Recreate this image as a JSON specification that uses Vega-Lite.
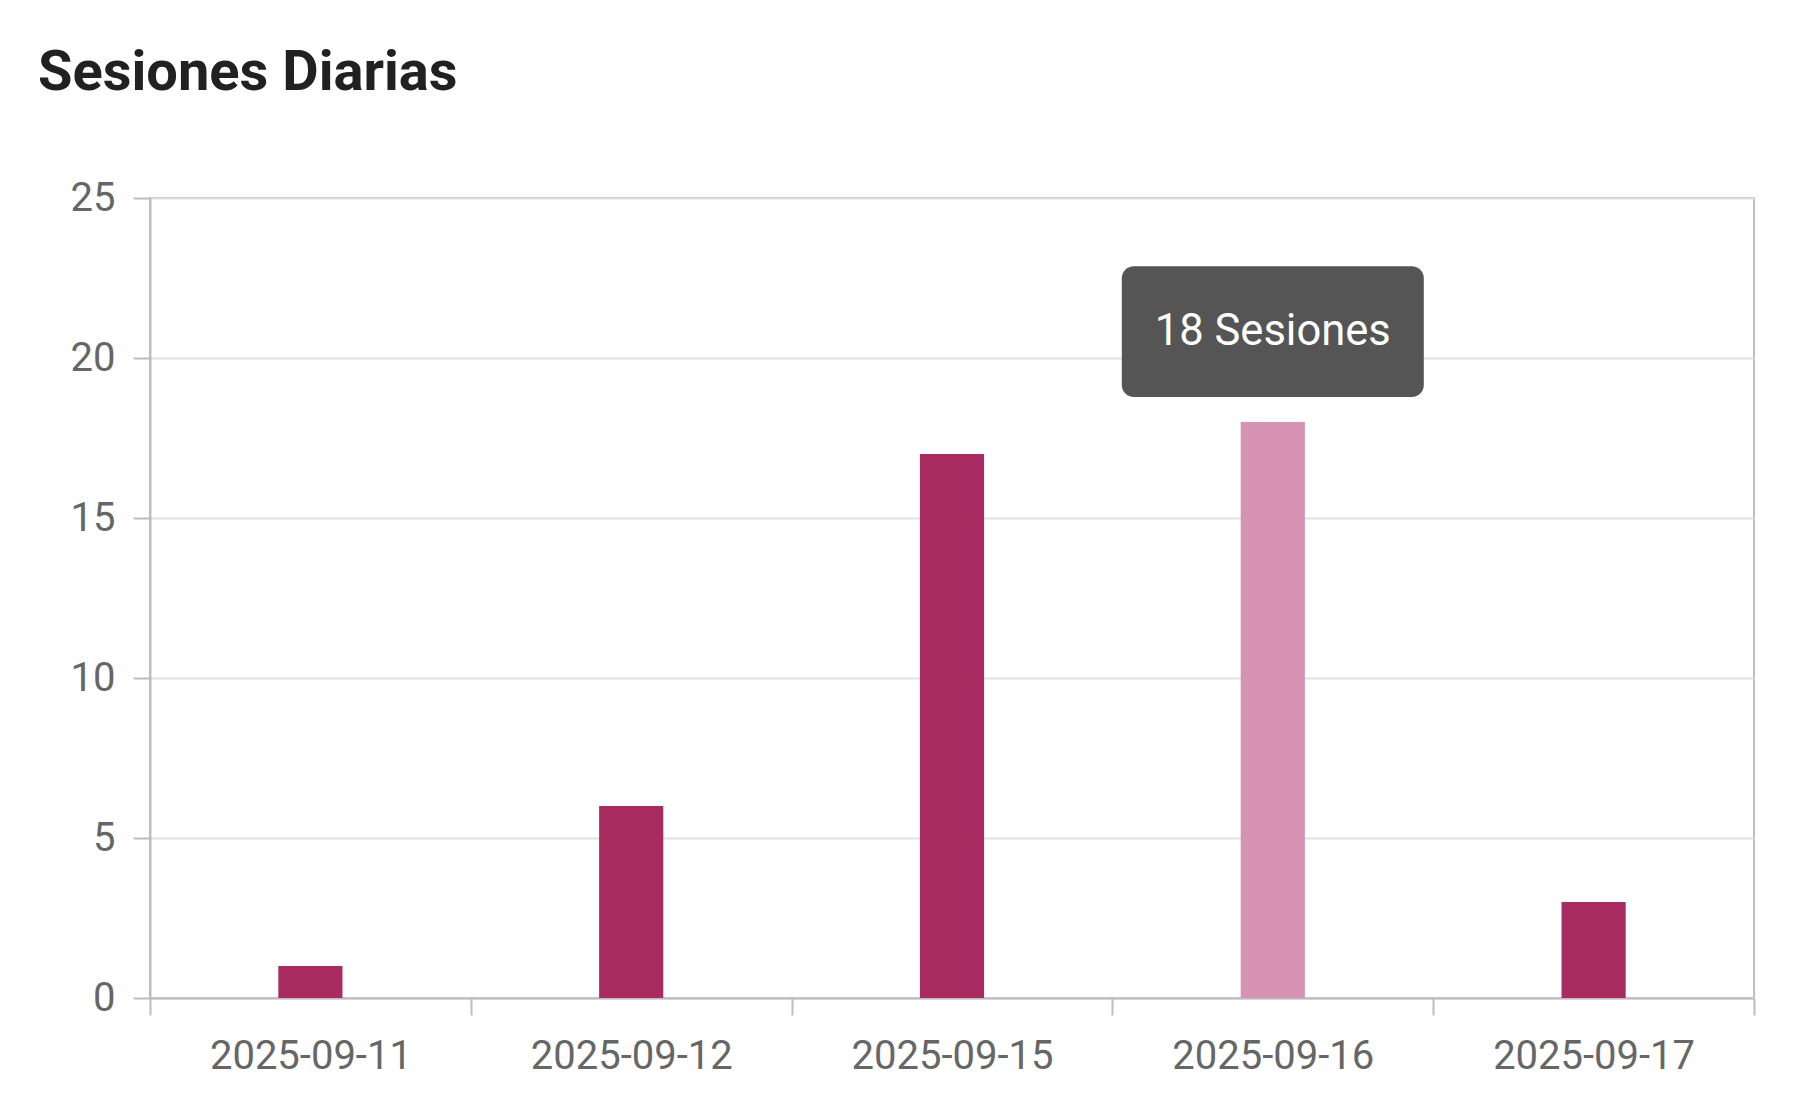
{
  "$schema": "https://vega.github.io/schema/vega-lite/v6.json",
  "autosize": {"type": "none"},
  "width": 1604,
  "height": 800,
  "padding": {"left": 150, "top": 198, "right": 52, "bottom": 105},
  "background": "#ffffff",
  "title": {
    "text": "Sesiones Diarias",
    "anchor": "start",
    "frame": "group",
    "dx": -112,
    "offset": 76,
    "font": "Roboto",
    "fontSize": 56,
    "fontWeight": "bold",
    "color": "#212121"
  },
  "config": {
    "view": {"stroke": "#bdbdbd", "strokeWidth": 2},
    "font": "Roboto"
  },
  "layer": [
    {
      "data": {
        "values": [
          {"fecha": "2025-09-11", "sesiones": 1},
          {"fecha": "2025-09-12", "sesiones": 6},
          {"fecha": "2025-09-15", "sesiones": 17},
          {"fecha": "2025-09-16", "sesiones": 18},
          {"fecha": "2025-09-17", "sesiones": 3}
        ]
      },
      "mark": {"type": "bar", "width": {"band": 0.2}},
      "encoding": {
        "x": {
          "field": "fecha",
          "type": "ordinal",
          "sort": null,
          "scale": {"paddingInner": 0, "paddingOuter": 0},
          "axis": {
            "title": null,
            "labelAngle": 0,
            "labelFont": "Roboto",
            "labelFontSize": 40,
            "labelLimit": 0,
            "labelColor": "#666666",
            "labelPadding": 21,
            "tickBand": "extent",
            "tickSize": 17,
            "tickColor": "#bdbdbd",
            "tickWidth": 2,
            "domainColor": "#bdbdbd",
            "domainWidth": 2,
            "grid": false
          }
        },
        "y": {
          "field": "sesiones",
          "type": "quantitative",
          "scale": {"domain": [0, 25], "nice": false},
          "axis": {
            "title": null,
            "values": [0, 5, 10, 15, 20, 25],
            "labelFont": "Roboto",
            "labelFontSize": 40,
            "labelColor": "#666666",
            "labelPadding": 18,
            "tickSize": 17,
            "tickColor": "#bdbdbd",
            "tickWidth": 2,
            "domainColor": "#bdbdbd",
            "domainWidth": 2,
            "grid": true,
            "gridColor": "#e0e0e0",
            "gridWidth": 2
          }
        },
        "color": {
          "condition": {"test": "datum.fecha === '2025-09-16'", "value": "#d693b3"},
          "value": "#a82c62"
        }
      }
    },
    {
      "data": {
        "values": [
          {"fecha": "2025-09-16", "inicio": 18.78, "fin": 22.87, "centro": 20.81, "etiqueta": "18 Sesiones"}
        ]
      },
      "layer": [
        {
          "mark": {"type": "bar", "width": 302, "cornerRadius": 12, "color": "#4f4f4f", "opacity": 0.97},
          "encoding": {
            "x": {"field": "fecha", "type": "ordinal"},
            "y": {"field": "inicio", "type": "quantitative"},
            "y2": {"field": "fin"}
          }
        },
        {
          "mark": {"type": "text", "font": "Roboto", "fontSize": 43.5, "color": "#ffffff", "align": "center", "baseline": "middle"},
          "encoding": {
            "x": {"field": "fecha", "type": "ordinal"},
            "y": {"field": "centro", "type": "quantitative"},
            "text": {"field": "etiqueta"}
          }
        }
      ]
    }
  ]
}
